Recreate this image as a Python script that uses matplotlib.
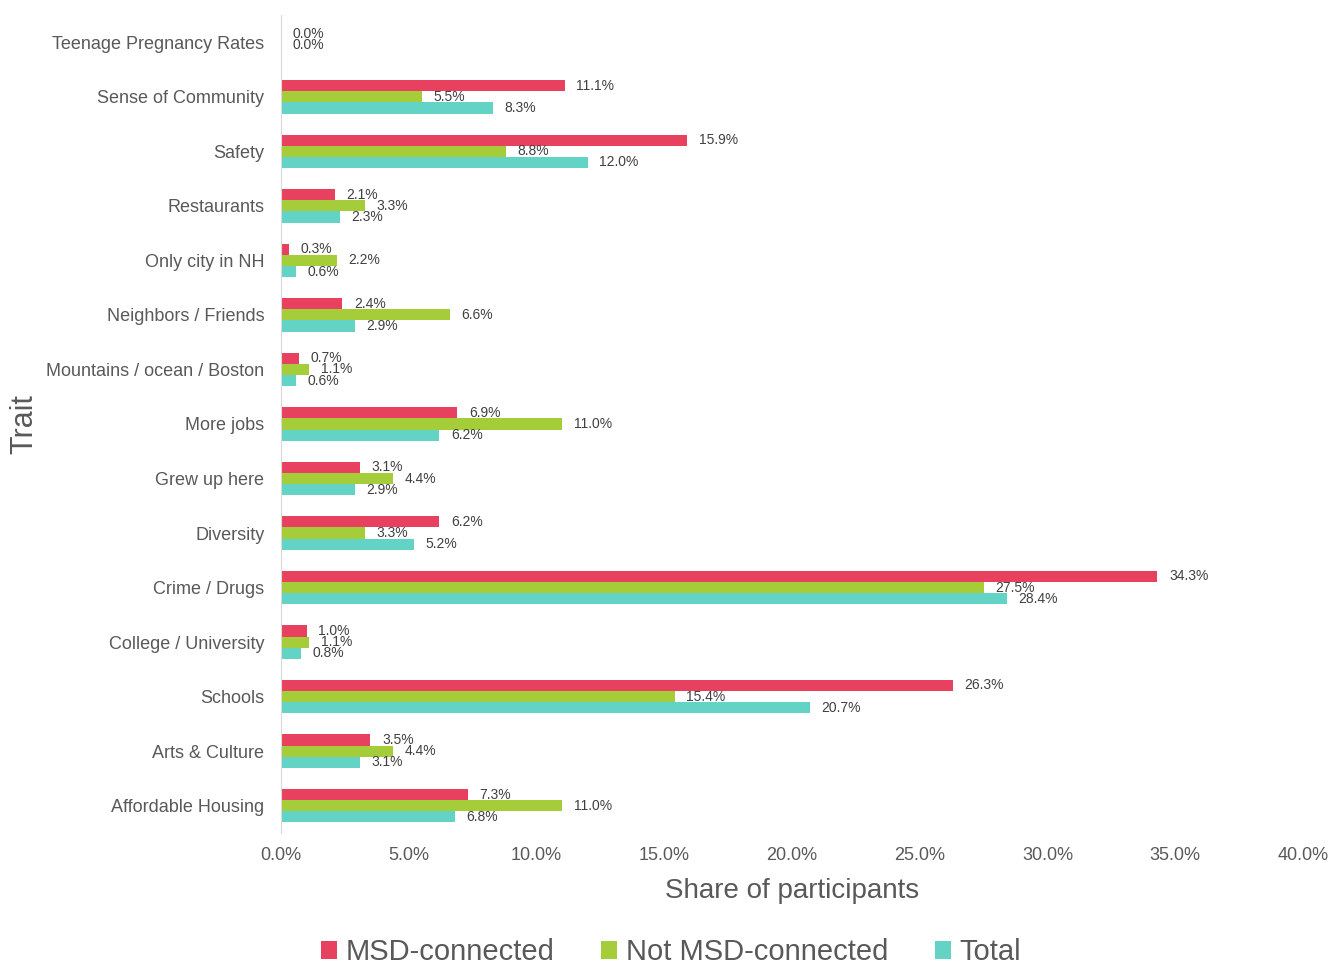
import matplotlib
matplotlib.use('Agg')
import numpy as np
import matplotlib.pyplot as plt
from matplotlib.ticker import FuncFormatter

plt.rcParams['font.family'] = ['Liberation Sans', 'DejaVu Sans']

# Traits, bottom to top
traits = ['Affordable Housing', 'Arts & Culture', 'Schools', 'College / University',
          'Crime / Drugs', 'Diversity', 'Grew up here', 'More jobs',
          'Mountains / ocean / Boston', 'Neighbors / Friends', 'Only city in NH',
          'Restaurants', 'Safety', 'Sense of Community', 'Teenage Pregnancy Rates']

msd = [7.3, 3.5, 26.3, 1.0, 34.3, 6.2, 3.1, 6.9, 0.7, 2.4, 0.3, 2.1, 15.9, 11.1, 0.0]
not_msd = [11.0, 4.4, 15.4, 1.1, 27.5, 3.3, 4.4, 11.0, 1.1, 6.6, 2.2, 3.3, 8.8, 5.5, 0.0]
total = [6.8, 3.1, 20.7, 0.8, 28.4, 5.2, 2.9, 6.2, 0.6, 2.9, 0.6, 2.3, 12.0, 8.3, 0.0]

series = [
    ('MSD-connected', msd, '#E8415F'),
    ('Not MSD-connected', not_msd, '#A5CD39'),
    ('Total', total, '#63D3C6'),
]

grey = '#595959'

fig = plt.figure(figsize=(13.42, 9.66), dpi=100)
ax = fig.add_axes([0.2094, 0.1377, 0.7616, 0.8468])

n = len(traits)
y = np.arange(n)
h = 0.205
offsets = [h, 0, -h]

for (name, vals, color), off in zip(series, offsets):
    vals = np.array(vals)
    ax.barh(y + off, vals, height=h, color=color, label=name)
    for i, v in enumerate(vals):
        # the top row only shows two labels
        if i == n - 1 and name == 'Total':
            continue
        ypos = y[i] + off
        if i == n - 1:
            ypos -= 0.05
        ax.text(v + 0.45, ypos, f'{v:.1f}%', va='center', ha='left',
                fontsize=10, color='#404040')

ax.set_yticks(y)
ax.set_yticklabels(traits, fontsize=13, color=grey)
ax.set_ylim(-0.5, n - 0.5)
ax.set_xlim(0, 40)
ax.set_xticks(np.arange(0, 40.1, 5))
ax.xaxis.set_major_formatter(FuncFormatter(lambda v, p: f'{v:.1f}%'))
ax.tick_params(axis='x', labelsize=13, labelcolor=grey, length=0, pad=10)
ax.tick_params(axis='y', length=0, pad=12)

for s in ['top', 'right', 'bottom']:
    ax.spines[s].set_visible(False)
ax.spines['left'].set_color('#d9d9d9')

ax.set_xlabel('Share of participants', fontsize=20, color=grey, labelpad=10)
ax.set_ylabel('Trait', fontsize=22, color=grey)
ax.yaxis.set_label_coords(-0.236, 0.5)

handles, labels = ax.get_legend_handles_labels()
fig.legend(handles, labels, loc='center', bbox_to_anchor=(0.5, 0.014), ncol=3,
           frameon=False, fontsize=21, labelcolor=grey, handlelength=0.55,
           handleheight=0.55, handletextpad=0.3, columnspacing=1.6)

fig.savefig('out.png', dpi=100)
